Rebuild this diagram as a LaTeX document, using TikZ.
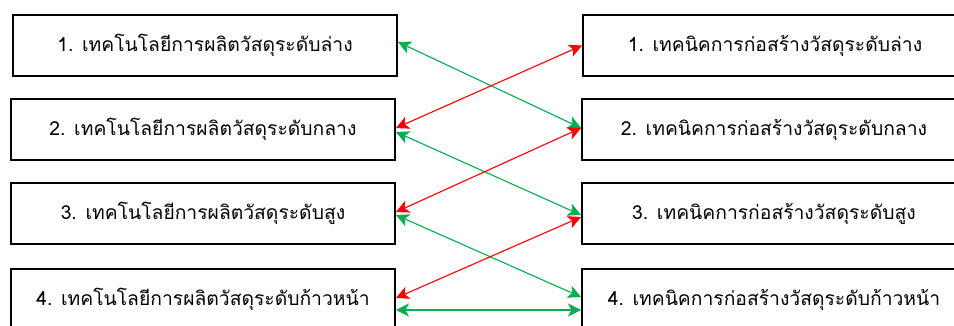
\documentclass[tikz,border=0pt]{standalone}
\usepackage{fontspec}
\newfontfamily\thaifont[Script=Thai]{Loma}
\usetikzlibrary{arrows.meta}
\definecolor{lgreen}{RGB}{0,176,80}
\definecolor{lred}{RGB}{255,0,0}
\begin{document}
\begin{tikzpicture}[x=1pt,y=-1pt,
  box/.style={draw, line width=2pt, minimum width=384pt, minimum height=61pt, inner sep=0pt,
    font=\thaifont\fontsize{19.3}{22}\selectfont},
  link/.style={line width=1.1pt, {Stealth[length=13pt,width=13pt,inset=3.5pt]}-{Stealth[length=13pt,width=13pt,inset=3.5pt]}},
  glink/.style={link, draw=lgreen, fill=lgreen},
  rlink/.style={link, draw=lred, fill=lred}]
\useasboundingbox (0,0) rectangle (954,326);
\clip (0,0) rectangle (954,326);
\node[box] (L1) at (205,45.5) {1. เทคโนโลยีการผลิตวัสดุระดับล่าง};
\node[box] (L2) at (203,129.5) {2. เทคโนโลยีการผลิตวัสดุระดับกลาง};
\node[box] (L3) at (203,213.5) {3. เทคโนโลยีการผลิตวัสดุระดับสูง};
\node[box] (L4) at (203,299.5) {4. เทคโนโลยีการผลิตวัสดุระดับก้าวหน้า};
\node[box] (R1) at (775,45.5) {1. เทคนิคการก่อสร้างวัสดุระดับล่าง};
\node[box] (R2) at (774,129.5) {2. เทคนิคการก่อสร้างวัสดุระดับกลาง};
\node[box] (R3) at (774,213.5) {3. เทคนิคการก่อสร้างวัสดุระดับสูง};
\node[box] (R4) at (774,299.5) {4. เทคนิคการก่อสร้างวัสดุระดับก้าวหน้า};
\draw[glink] ([yshift=3.5pt]L1.east) -- ([yshift=1.5pt]R2.west);
\draw[rlink] (R1.west) -- ([yshift=1.5pt]L2.east);
\draw[glink] ([yshift=-2.5pt]L2.east) -- ([yshift=-1.5pt]R3.west);
\draw[rlink] ([yshift=1.5pt]R2.west) -- ([yshift=1.5pt]L3.east);
\draw[glink] ([yshift=-1.5pt]L3.east) -- ([yshift=2.5pt]R4.west);
\draw[rlink] ([yshift=-3.5pt]R3.west) -- ([yshift=1.5pt]L4.east);
\draw[glink] ([yshift=-10.5pt]L4.east) -- ([yshift=-10.5pt]R4.west);
\end{tikzpicture}
\end{document}
